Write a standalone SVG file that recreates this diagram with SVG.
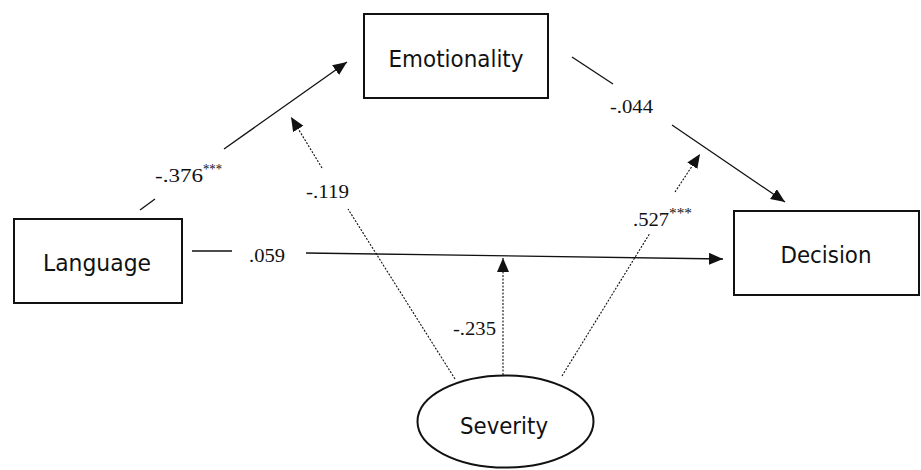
<svg xmlns="http://www.w3.org/2000/svg" width="921" height="470" viewBox="0 0 921 470">
<style>
.box{fill:#fff;stroke:#111;stroke-width:2}
.nl{font-family:"DejaVu Sans",Verdana,sans-serif;font-size:23px;fill:#111;text-anchor:middle}
.lb{font-family:"Liberation Serif","Times New Roman",serif;font-size:19px;fill:#111}
.sup{font-family:"Liberation Serif","Times New Roman",serif;font-size:15px;fill:#111}
.solid{fill:none;stroke:#111;stroke-width:1.3}
.dot{fill:none;stroke:#111;stroke-width:1.1;stroke-dasharray:2 1.5}
</style>
<defs>
<marker id="ah" markerUnits="userSpaceOnUse" markerWidth="15" markerHeight="13" refX="14" refY="6" orient="auto" viewBox="0 0 15 13">
<path d="M0,0 L14,6 L0,12 z" fill="#111"/>
</marker>
</defs>
<rect width="921" height="470" fill="#fff"/>
<g id="connectors">
<line class="solid" x1="140" y1="210" x2="155" y2="199"/>
<line class="solid" x1="224" y1="149" x2="347" y2="62" marker-end="url(#ah)"/>
<line class="solid" x1="572" y1="57" x2="613" y2="84"/>
<line class="solid" x1="672" y1="125" x2="785" y2="202" marker-end="url(#ah)"/>
<line class="solid" x1="192" y1="251" x2="232" y2="251"/>
<line class="solid" x1="306" y1="253" x2="723" y2="259" marker-end="url(#ah)"/>
<line class="dot" x1="455" y1="379" x2="348" y2="209"/>
<line class="dot" x1="322" y1="168" x2="291" y2="117" marker-end="url(#ah)"/>
<line class="dot" x1="503" y1="375" x2="503" y2="258" marker-end="url(#ah)"/>
<line class="dot" x1="562" y1="376" x2="650" y2="233"/>
<line class="dot" x1="675" y1="192" x2="700" y2="154" marker-end="url(#ah)"/>
<text class="lb" x="155" y="182" textLength="48" lengthAdjust="spacingAndGlyphs">-.376</text>
<text class="sup" x="203" y="174" textLength="19" lengthAdjust="spacingAndGlyphs">***</text>
<text class="lb" x="306" y="198" textLength="43" lengthAdjust="spacingAndGlyphs">-.119</text>
<text class="lb" x="610" y="113" textLength="43" lengthAdjust="spacingAndGlyphs">-.044</text>
<text class="lb" x="249" y="262" textLength="36" lengthAdjust="spacingAndGlyphs">.059</text>
<text class="lb" x="453" y="335" textLength="43" lengthAdjust="spacingAndGlyphs">-.235</text>
<text class="lb" x="633" y="226" textLength="36" lengthAdjust="spacingAndGlyphs">.527</text>
<text class="sup" x="669" y="218" textLength="23" lengthAdjust="spacingAndGlyphs">***</text>
</g>
<g id="emotionality">
<rect class="box" x="364" y="14" width="184" height="84"/>
<text class="nl" x="456" y="67" textLength="135" lengthAdjust="spacingAndGlyphs">Emotionality</text>
</g>
<g id="language">
<rect class="box" x="14" y="219" width="168" height="84"/>
<text class="nl" x="97" y="271" textLength="108" lengthAdjust="spacingAndGlyphs">Language</text>
</g>
<g id="decision">
<rect class="box" x="734" y="211" width="185" height="84"/>
<text class="nl" x="826" y="263" textLength="91" lengthAdjust="spacingAndGlyphs">Decision</text>
</g>
<g id="severity">
<ellipse class="box" cx="505.5" cy="421.5" rx="88" ry="46"/>
<text class="nl" x="504" y="434" textLength="88" lengthAdjust="spacingAndGlyphs">Severity</text>
</g>
</svg>
